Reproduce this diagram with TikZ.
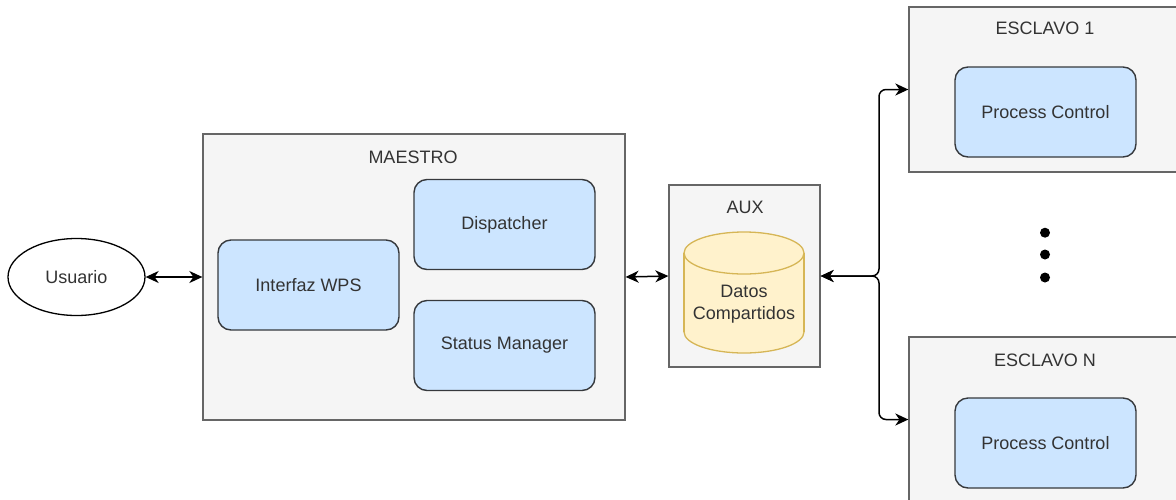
\documentclass[tikz,border=0pt]{standalone}
\usepackage{fontspec}
\setmainfont{Liberation Sans}
\usetikzlibrary{arrows.meta,shapes.geometric}

\definecolor{contfill}{HTML}{F5F5F5}
\definecolor{contline}{HTML}{666666}
\definecolor{procfill}{HTML}{CCE5FF}
\definecolor{procline}{HTML}{36393D}
\definecolor{dbfill}{HTML}{FFF2CC}
\definecolor{dbline}{HTML}{D6B656}
\definecolor{txt}{HTML}{333333}

\tikzset{
  lbl/.style={font=\fontsize{18}{22}\selectfont, text=txt, inner sep=0pt},
  container/.style={draw=contline, fill=contfill, line width=1.3pt, inner sep=0pt},
  procbox/.style={draw=procline, fill=procfill, line width=1.4pt, rounded corners=13pt,
    minimum width=181pt, minimum height=90pt, inner sep=0pt,
    font=\fontsize{18}{22}\selectfont, text=txt},
  tipped/.style={line width=1.5pt, {Stealth[length=13pt,width=12pt,inset=4pt]}-{Stealth[length=13pt,width=12pt,inset=4pt]}},
  dotmark/.style={circle, fill=black, minimum size=10pt, inner sep=0pt},
}

\begin{document}
\begin{tikzpicture}[x=1pt,y=-1pt]
\useasboundingbox (0,0) rectangle (1176,499);
\begin{scope}
\clip (0,0) rectangle (1176,499);

% user
\node[ellipse, draw=black, fill=white, line width=1.3pt, minimum width=137pt, minimum height=77pt,
  inner sep=0pt, font=\fontsize{18}{22}\selectfont, text=txt] (usuario) at (76.5,277) {Usuario};

% master container and its components
\node[container, minimum width=422pt, minimum height=286pt] (maestro) at (414,277) {};
\node[lbl] (maestrolbl) at (413,157) {MAESTRO};
\node[procbox] (interfaz) at (308.5,285) {Interfaz WPS};
\node[procbox] (dispatcher) at (504.5,224.5) {Dispatcher};
\node[procbox] (status) at (504.5,345.5) {Status Manager};

% shared storage
\node[container, minimum width=151pt, minimum height=182pt] (aux) at (744.5,276) {};
\node[lbl] (auxlbl) at (745,207) {AUX};
\fill[dbfill] (744,332) ellipse [x radius=60pt, y radius=21pt];
\fill[dbfill] (684,253) rectangle (804,332);
\draw[dbline, line width=1.3pt] (684,253) -- (684,332) (804,253) -- (804,332);
\begin{scope}
  \clip (670,332) rectangle (820,360);
  \draw[dbline, line width=1.3pt] (744,332) ellipse [x radius=60pt, y radius=21pt];
\end{scope}
\draw[dbline, line width=1.3pt, fill=dbfill] (744,253) ellipse [x radius=60pt, y radius=21pt];
\node[lbl, align=center] (datos) at (744,304) {Datos\\Compartidos};

% slaves
\node[container, minimum width=272pt, minimum height=165pt] (esc1) at (1045,89.5) {};
\node[lbl] (esc1lbl) at (1045,28) {ESCLAVO 1};
\node[procbox] (pc1) at (1045.5,112) {Process Control};

\node[container, minimum width=272pt, minimum height=165pt] (escn) at (1045,419.5) {};
\node[lbl] (escnlbl) at (1045,360) {ESCLAVO N};
\node[procbox] (pcn) at (1045.5,443) {Process Control};

\node[dotmark] (dot1) at (1045,232.7) {};
\node[dotmark] (dot2) at (1045,254.5) {};
\node[dotmark] (dot3) at (1045,277.5) {};

% connectors
\coordinate (jn) at (879,276);
\draw[tipped] (usuario.east) -- (maestro.west);
\draw[tipped] (maestro.east) -- (aux.west);
\draw[tipped, rounded corners=7pt] (aux.east) -- (jn) |- (esc1.west);
\draw[tipped, rounded corners=7pt] (aux.east) -- (jn) |- (escn.west);
\end{scope}
\end{tikzpicture}
\end{document}
